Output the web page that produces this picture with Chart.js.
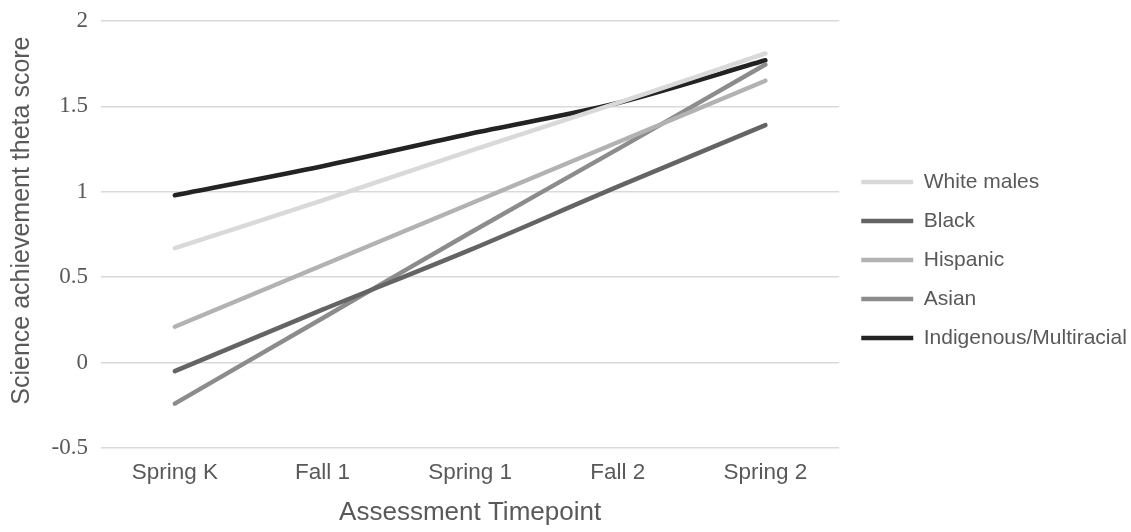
<!DOCTYPE html>
<html>
<head>
<meta charset="utf-8">
<script src="https://cdn.jsdelivr.net/npm/chart.js@4/dist/chart.umd.min.js"></script>
<style>
  html, body { margin: 0; padding: 0; background: #fff; }
  #wrap { width: 1131px; height: 532px; }
</style>
</head>
<body>
<div id="wrap"><canvas id="chart"></canvas></div>
<script>
// values
const timepoints = ["Spring K", "Fall 1", "Spring 1", "Fall 2", "Spring 2"];
const whiteMales = [0.67, 0.95, 1.24, 1.52, 1.81];
const black = [-0.05, 0.31, 0.66, 1.03, 1.39];
const hispanic = [0.21, 0.57, 0.93, 1.29, 1.65];
const asian = [-0.24, 0.26, 0.76, 1.25, 1.745];
const indigenous = [0.98, 1.15, 1.34, 1.52, 1.77];
const yTickLabels = ["-0.5", "0", "0.5", "1", "1.5", "2"];
const yMin = -0.5;
const yMax = 2;
const yStep = 0.5;

const textColor = "#595959";
const sans = "'Liberation Sans', Arial, sans-serif";

const makeSeries = (label, data, color) => ({
  label,
  data,
  borderColor: color,
  backgroundColor: color,
  borderWidth: 4.5,
  borderCapStyle: "round",
  borderJoinStyle: "round",
  pointRadius: 0,
  pointHoverRadius: 0,
  pointStyle: "line",
  tension: 0.3,
});

// nudge the legend block to where it sits in the reference
// (right edge widened too, the legend clips to its own box)
const legendNudge = {
  id: "legendNudge",
  afterUpdate(chart) {
    const lg = chart.legend;
    if (!lg) return;
    lg.top -= 14.5;
    lg.bottom -= 14.5;
    lg.left += 4;
    lg.right += 16;
  },
};

new Chart(document.getElementById("chart"), {
  type: "line",
  data: {
    labels: timepoints,
    datasets: [
      makeSeries("White males", whiteMales, "#d9d9d9"),
      makeSeries("Black", black, "#646464"),
      makeSeries("Hispanic", hispanic, "#b2b2b2"),
      makeSeries("Asian", asian, "#8c8c8c"),
      makeSeries("Indigenous/Multiracial", indigenous, "#232323"),
    ],
  },
  options: {
    responsive: true,
    maintainAspectRatio: false,
    animation: false,
    devicePixelRatio: 1,
    layout: { padding: { top: 17, left: 0, right: 12, bottom: 0 } },
    scales: {
      x: {
        offset: true,
        grid: { display: false, drawTicks: false },
        border: { display: false },
        ticks: { color: textColor, padding: 11, font: { family: sans, size: 22.5 } },
        title: {
          display: true,
          text: "Assessment Timepoint",
          color: textColor,
          font: { family: sans, size: 26 },
          padding: { top: 0, bottom: 4 },
        },
        afterFit: (s) => { s.height = 84; },
      },
      y: {
        min: yMin,
        max: yMax,
        grid: { color: "#d9d9d9", lineWidth: 1.5, drawTicks: false },
        border: { display: false },
        ticks: {
          stepSize: yStep,
          color: textColor,
          padding: 13,
          font: { family: "'Liberation Serif', 'Times New Roman', serif", size: 23, lineHeight: "16px" },
          callback: (value, i) => yTickLabels[i],
        },
        title: {
          display: true,
          text: "    Science achievement theta score",
          color: textColor,
          font: { family: sans, size: 25 },
          padding: { top: 7, bottom: 0 },
        },
        afterFit: (s) => { s.width = 101; },
      },
    },
    plugins: {
      legend: {
        position: "right",
        align: "center",
        labels: {
          usePointStyle: true,
          pointStyle: "line",
          pointStyleWidth: 52,
          padding: 18,
          color: textColor,
          font: { family: sans, size: 21 },
        },
      },
      tooltip: { enabled: false },
    },
  },
  plugins: [legendNudge],
});
</script>
</body>
</html>
